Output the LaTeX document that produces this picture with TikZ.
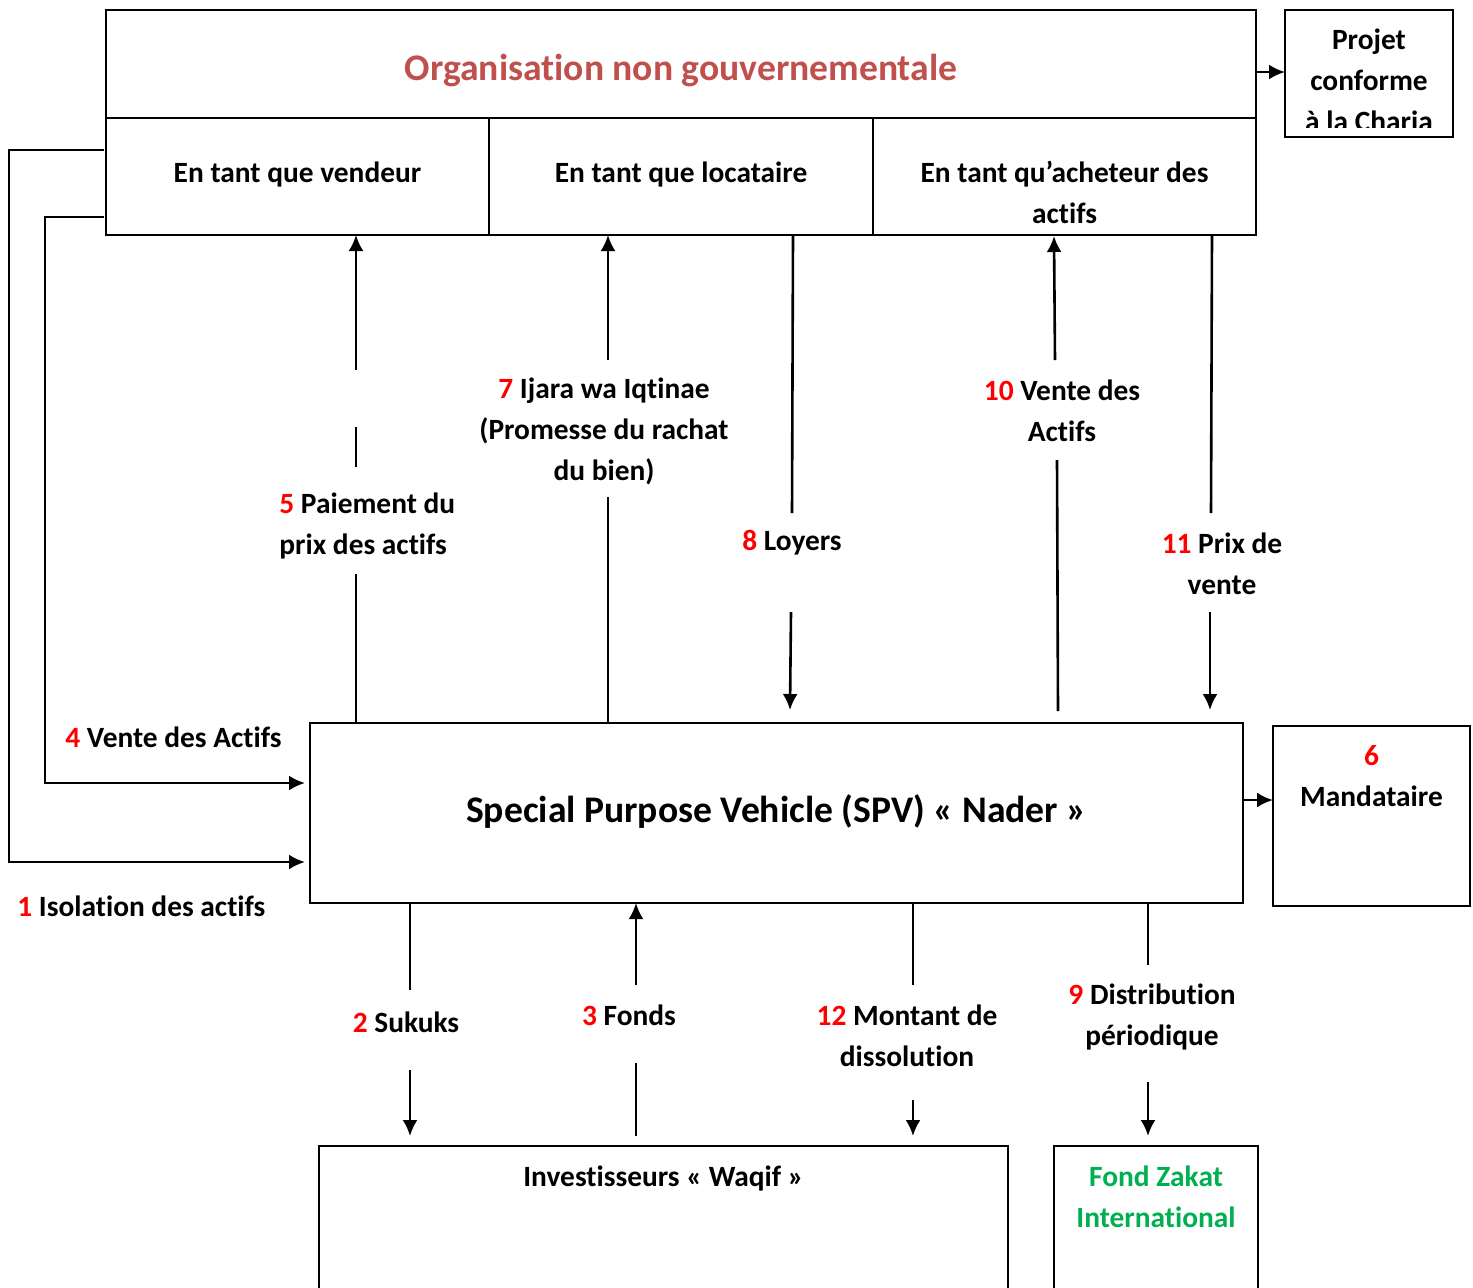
\documentclass[tikz,border=0pt]{standalone}
\usepackage{fontspec}
\setmainfont{Carlito}[RawFeature={-liga;-clig;-dlig}]
\usetikzlibrary{arrows.meta}
\definecolor{titlered}{HTML}{C0504D}
\definecolor{numred}{HTML}{FF0000}
\definecolor{zgreen}{HTML}{00B050}
\tikzset{
  box/.style={draw=black, line width=1.1pt, inner sep=0pt, outer sep=0pt},
  lbl/.style={font=\bfseries\fontsize{14.7}{20.5}\selectfont, align=center, inner sep=0pt},
  big/.style={font=\bfseries\fontsize{18.8}{22}\selectfont, inner sep=0pt},
  ln/.style={line width=1.3pt},
  arr/.style={line width=1.3pt, -{Latex[length=8pt,width=7.5pt]}},
}
\newcommand{\nb}[1]{\textcolor{numred}{#1}}
\begin{document}
\begin{tikzpicture}[x=0.5pt,y=-0.5pt]
\useasboundingbox (0,0) rectangle (1473,1287);
\clip (0,0) rectangle (1473,1287);
% top organisation box
\node[box, minimum width=575pt, minimum height=112.5pt] (ngo) at (681,122.5) {};
\node[box, minimum width=575pt, minimum height=54pt] (titlebox) at (681,64) {};
\node[big, text=titlered] (title) at (681,70) {Organisation non gouvernementale};
\node[box, minimum width=191.5pt, minimum height=58.5pt] (vendeur) at (297.5,176.5) {};
\node[box, minimum width=192pt, minimum height=58.5pt] (locataire) at (681,176.5) {};
\node[box, minimum width=191.5pt, minimum height=58.5pt] (acheteur) at (1064.5,176.5) {};
\node[lbl] (tv) at (297.5,174) {En tant que vendeur};
\node[lbl] (tl) at (681,174) {En tant que locataire};
\node[lbl] (ta) at (1064.5,192) {En tant qu’acheteur des\\actifs};
% projet box
\node[box, minimum width=84pt, minimum height=63.5pt] (projet) at (1369,73.5) {};
\begin{scope}
\clip (1286,11) rectangle (1452,127);
\node[lbl] (tp) at (1369,80) {Projet\\conforme\\à la Charia};
\end{scope}
\draw[arr] (ngo.east |- 0,72) -- (projet.west |- 0,72);
% SPV
\node[box, minimum width=466.5pt, minimum height=90pt] (spv) at (776.5,813) {};
\node[big] (tspv) at (776.5,811) {Special Purpose Vehicle (SPV) « Nader »};
% Mandataire
\node[box, minimum width=98.5pt, minimum height=90pt] (mand) at (1371.5,816) {};
\node[lbl] (tm) at (1371.5,776) {\nb{6}\\Mandataire};
\draw[arr] (spv.east |- 0,800) -- (mand.west |- 0,800);
% bottom boxes
\node[box, minimum width=344.5pt, minimum height=100pt] (inv) at (663.5,1246) {};
\node[lbl] (tinv) at (663.5,1178) {Investisseurs « Waqif »};
\node[box, minimum width=102pt, minimum height=100pt] (zak) at (1156,1246) {};
\node[lbl, text=zgreen] (tz) at (1156,1197) {Fond Zakat\\International};
% left connectors
\coordinate (c1a) at (104,150);
\coordinate (c1b) at (305,862);
\draw[arr] (c1a) -- (9,150) -- (9,862) -- (c1b);
\coordinate (c4a) at (104,217);
\coordinate (c4b) at (305,783);
\draw[arr] (c4a) -- (45,217) -- (45,783) -- (c4b);
\node[lbl, anchor=west] (l4) at (65,737) {\nb{4} Vente des Actifs};
\node[lbl, anchor=west] (l1) at (17,906) {\nb{1} Isolation des actifs};
% arrow 5
\node[lbl, align=left, anchor=west] (l5) at (279,525.5) {\nb{5} Paiement du\\prix des actifs};
\coordinate (a5a) at (356,574);
\coordinate (a5b) at (356,467);
\coordinate (a5c) at (356,427);
\coordinate (a5d) at (356,370);
\draw[ln] (spv.north -| a5a) -- (a5a);
\draw[ln] (a5b) -- (a5c);
\draw[arr] (a5d) -- (vendeur.south -| a5d);
% arrow 7
\node[lbl] (l7) at (604,431) {\nb{7} Ijara wa Iqtinae\\(Promesse du rachat\\du bien)};
\coordinate (a7a) at (608,497);
\coordinate (a7b) at (608,360);
\draw[ln] (spv.north -| a7a) -- (a7a);
\draw[arr] (a7b) -- (locataire.south -| a7b);
% arrow 8
\node[lbl] (l8) at (792,543) {\nb{8} Loyers};
\coordinate (a8t) at (793,236);
\coordinate (a8a) at (792,513);
\coordinate (a8b) at (791,612);
\coordinate (a8c) at (790,710);
\draw[ln] (a8t) -- (a8a);
\draw[arr] (a8b) -- (a8c);
% arrow 10
\node[lbl] (l10) at (1062,410.5) {\nb{10} Vente des\\Actifs};
\coordinate (a10a) at (1058,711);
\coordinate (a10b) at (1057,460);
\coordinate (a10c) at (1055,360);
\coordinate (a10d) at (1054,236);
\draw[ln] (a10a) -- (a10b);
\draw[arr] (a10c) -- (a10d);
% arrow 11
\node[lbl] (l11) at (1222,564) {\nb{11} Prix de\\vente};
\coordinate (a11a) at (1211,513);
\coordinate (a11b) at (1210,612);
\coordinate (a11c) at (1210,710);
\draw[ln] (acheteur.south -| 1212,0) -- (a11a);
\draw[arr] (a11b) -- (a11c);
% arrow 2
\node[lbl] (l2) at (406,1022) {\nb{2} Sukuks};
\coordinate (a2a) at (410,990);
\coordinate (a2b) at (410,1070);
\coordinate (a2c) at (410,1136);
\draw[ln] (spv.south -| a2a) -- (a2a);
\draw[arr] (a2b) -- (a2c);
% arrow 3
\node[lbl] (l3) at (629,1015) {\nb{3} Fonds};
\coordinate (a3a) at (636,1136);
\coordinate (a3b) at (636,1063);
\coordinate (a3c) at (636,985);
\draw[ln] (a3a) -- (a3b);
\draw[arr] (a3c) -- (spv.south -| a3c);
% arrow 12
\node[lbl] (l12) at (907,1035.5) {\nb{12} Montant de\\dissolution};
\coordinate (a12a) at (913,985);
\coordinate (a12b) at (913,1100);
\coordinate (a12c) at (913,1136);
\draw[ln] (spv.south -| a12a) -- (a12a);
\draw[arr] (a12b) -- (a12c);
% arrow 9
\node[lbl] (l9) at (1152,1016.5) {\nb{9} Distribution\\périodique};
\coordinate (a9a) at (1148,965);
\coordinate (a9b) at (1148,1082);
\coordinate (a9c) at (1148,1136);
\draw[ln] (spv.south -| a9a) -- (a9a);
\draw[arr] (a9b) -- (a9c);
\end{tikzpicture}
\end{document}
